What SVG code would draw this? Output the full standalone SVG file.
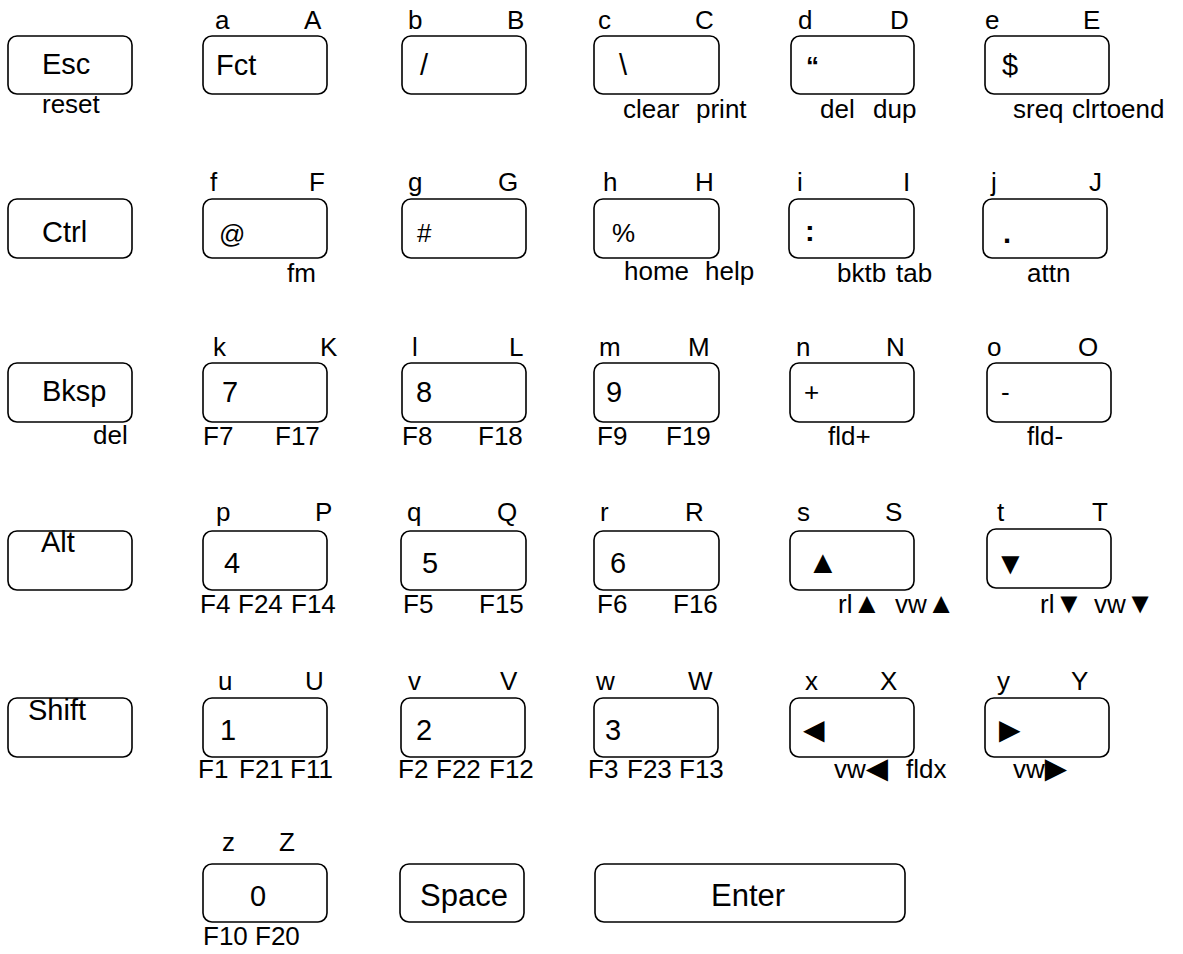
<svg xmlns="http://www.w3.org/2000/svg" width="1183" height="954" viewBox="0 0 1183 954">
<style>
  .k { fill: #fff; stroke: #000; stroke-width: 1.6; }
  text { font-family: "Liberation Sans", Arial, sans-serif; fill: #000; }
  .m { font-size: 29px; }
  .b { font-size: 31px; }
  .l { font-size: 26px; }
  .s { font-size: 26px; }
  .tri { font-family: "Liberation Sans", "DejaVu Sans", sans-serif; }
</style>
<rect width="1183" height="954" fill="#fff"/>
<!-- Row 1 -->
<g id="key-esc"><rect class="k" x="8" y="36" width="124" height="58" rx="9"/><text class="m" x="42" y="74">Esc</text><text class="s" x="42" y="113">reset</text></g>
<g id="key-a"><text class="l" x="215" y="29">a</text><text class="l" x="304" y="29">A</text><rect class="k" x="203" y="36" width="124" height="58" rx="9"/><text class="m" x="216" y="75">Fct</text></g>
<g id="key-b"><text class="l" x="408" y="29">b</text><text class="l" x="507" y="29">B</text><rect class="k" x="402" y="36" width="124" height="58" rx="9"/><text class="m" x="420" y="75">/</text></g>
<g id="key-c"><text class="l" x="598" y="29">c</text><text class="l" x="695" y="29">C</text><rect class="k" x="594" y="36" width="125" height="58" rx="9"/><text class="m" x="619" y="75">\</text><text class="s" y="118"><tspan x="623">clear</tspan><tspan x="696">print</tspan></text></g>
<g id="key-d"><text class="l" x="798" y="29">d</text><text class="l" x="890" y="29">D</text><rect class="k" x="791" y="36" width="123" height="58" rx="9"/><text class="s" x="806" y="75" font-weight="bold">“</text><text class="s" y="118"><tspan x="820">del</tspan><tspan x="873">dup</tspan></text></g>
<g id="key-e"><text class="l" x="985" y="29">e</text><text class="l" x="1083" y="29">E</text><rect class="k" x="985" y="36" width="124" height="58" rx="9"/><text class="m" x="1002" y="75">$</text><text class="s" y="118"><tspan x="1013">sreq</tspan><tspan x="1072">clrtoend</tspan></text></g>
<!-- Row 2 -->
<g id="key-ctrl"><rect class="k" x="8" y="199" width="124" height="59" rx="9"/><text class="m" x="42" y="242">Ctrl</text></g>
<g id="key-f"><text class="l" x="210" y="191">f</text><text class="l" x="309" y="191">F</text><rect class="k" x="203" y="199" width="124" height="59" rx="9"/><text class="s" x="219" y="243" font-size="27">@</text><text class="s" x="287" y="282">fm</text></g>
<g id="key-g"><text class="l" x="408" y="191">g</text><text class="l" x="498" y="191">G</text><rect class="k" x="402" y="199" width="124" height="59" rx="9"/><text class="s" x="417" y="242">#</text></g>
<g id="key-h"><text class="l" x="603" y="191">h</text><text class="l" x="695" y="191">H</text><rect class="k" x="594" y="199" width="125" height="59" rx="9"/><text class="s" x="612" y="242">%</text><text class="s" y="280"><tspan x="624">home</tspan><tspan x="705">help</tspan></text></g>
<g id="key-i"><text class="l" x="797" y="191">i</text><text class="l" x="903" y="191">I</text><rect class="k" x="789" y="199" width="125" height="59" rx="9"/><text class="m" x="805" y="241" font-weight="bold">:</text><text class="s" y="282"><tspan x="837">bktb</tspan><tspan x="896">tab</tspan></text></g>
<g id="key-j"><text class="l" x="991" y="191">j</text><text class="l" x="1089" y="191">J</text><rect class="k" x="983" y="199" width="124" height="59" rx="9"/><text class="m" x="1003" y="243" font-weight="bold">.</text><text class="s" x="1027" y="282">attn</text></g>
<!-- Row 3 -->
<g id="key-bksp"><rect class="k" x="8" y="363" width="124" height="59" rx="9"/><text class="m" x="42" y="401">Bksp</text><text class="s" x="93" y="444">del</text></g>
<g id="key-k"><text class="l" x="213" y="356">k</text><text class="l" x="320" y="356">K</text><rect class="k" x="203" y="363" width="124" height="59" rx="9"/><text class="m" x="222" y="402">7</text><text class="s" y="445"><tspan x="203">F7</tspan><tspan x="275">F17</tspan></text></g>
<g id="key-l"><text class="l" x="412" y="356">l</text><text class="l" x="509" y="356">L</text><rect class="k" x="402" y="363" width="124" height="59" rx="9"/><text class="m" x="416" y="402">8</text><text class="s" y="445"><tspan x="402">F8</tspan><tspan x="478">F18</tspan></text></g>
<g id="key-m"><text class="l" x="599" y="356">m</text><text class="l" x="688" y="356">M</text><rect class="k" x="594" y="363" width="125" height="59" rx="9"/><text class="m" x="606" y="402">9</text><text class="s" y="445"><tspan x="597">F9</tspan><tspan x="666">F19</tspan></text></g>
<g id="key-n"><text class="l" x="796" y="356">n</text><text class="l" x="886" y="356">N</text><rect class="k" x="790" y="363" width="124" height="59" rx="9"/><text class="s" x="804" y="401">+</text><text class="s" x="828" y="445">fld+</text></g>
<g id="key-o"><text class="l" x="987" y="356">o</text><text class="l" x="1078" y="356">O</text><rect class="k" x="987" y="363" width="124" height="59" rx="9"/><text class="s" x="1001" y="401">-</text><text class="s" x="1027" y="445">fld-</text></g>
<!-- Row 4 -->
<g id="key-alt"><rect class="k" x="8" y="531" width="124" height="59" rx="9"/><text class="m" x="41" y="552">Alt</text></g>
<g id="key-p"><text class="l" x="216" y="521">p</text><text class="l" x="315" y="521">P</text><rect class="k" x="203" y="531" width="124" height="59" rx="9"/><text class="m" x="224" y="573">4</text><text class="s" y="613"><tspan x="200">F4</tspan><tspan x="238">F24</tspan><tspan x="291">F14</tspan></text></g>
<g id="key-q"><text class="l" x="407" y="521">q</text><text class="l" x="497" y="521">Q</text><rect class="k" x="401" y="531" width="125" height="59" rx="9"/><text class="m" x="422" y="573">5</text><text class="s" y="613"><tspan x="403">F5</tspan><tspan x="479">F15</tspan></text></g>
<g id="key-r"><text class="l" x="600" y="521">r</text><text class="l" x="685" y="521">R</text><rect class="k" x="594" y="531" width="125" height="59" rx="9"/><text class="m" x="610" y="573">6</text><text class="s" y="613"><tspan x="597">F6</tspan><tspan x="673">F16</tspan></text></g>
<g id="key-s"><text class="l" x="797" y="521">s</text><text class="l" x="885" y="521">S</text><rect class="k" x="790" y="531" width="124" height="59" rx="9"/><text class="tri" font-size="32" x="807" y="573">▲</text><text class="s" y="613"><tspan x="838">rl</tspan><tspan class="tri" font-size="29">▲</tspan><tspan x="895">vw</tspan><tspan class="tri" font-size="29">▲</tspan></text></g>
<g id="key-t"><text class="l" x="997" y="521">t</text><text class="l" x="1092" y="521">T</text><rect class="k" x="987" y="529" width="124" height="59" rx="9"/><text class="tri" font-size="31" x="995" y="574">▼</text><text class="s" y="613"><tspan x="1040">rl</tspan><tspan class="tri" font-size="29">▼</tspan><tspan x="1094">vw</tspan><tspan class="tri" font-size="29">▼</tspan></text></g>
<!-- Row 5 -->
<g id="key-shift"><rect class="k" x="8" y="698" width="124" height="59" rx="9"/><text class="m" x="28" y="720">Shift</text></g>
<g id="key-u"><text class="l" x="218" y="690">u</text><text class="l" x="305" y="690">U</text><rect class="k" x="203" y="698" width="124" height="59" rx="9"/><text class="m" x="220" y="740">1</text><text class="s" y="778"><tspan x="198">F1</tspan><tspan x="239">F21</tspan><tspan x="290">F11</tspan></text></g>
<g id="key-v"><text class="l" x="408" y="690">v</text><text class="l" x="500" y="690">V</text><rect class="k" x="401" y="698" width="124" height="59" rx="9"/><text class="m" x="416" y="740">2</text><text class="s" y="778"><tspan x="398">F2</tspan><tspan x="436">F22</tspan><tspan x="489">F12</tspan></text></g>
<g id="key-w"><text class="l" x="596" y="690">w</text><text class="l" x="688" y="690">W</text><rect class="k" x="594" y="698" width="124" height="59" rx="9"/><text class="m" x="605" y="740">3</text><text class="s" y="778"><tspan x="588">F3</tspan><tspan x="627">F23</tspan><tspan x="679">F13</tspan></text></g>
<g id="key-x"><text class="l" x="805" y="690">x</text><text class="l" x="880" y="690">X</text><rect class="k" x="790" y="698" width="124" height="59" rx="9"/><text class="tri" font-size="28" x="803" y="739">◀</text><text class="s" y="778"><tspan x="834">vw</tspan><tspan class="tri" font-size="29">◀</tspan><tspan x="906">fldx</tspan></text></g>
<g id="key-y"><text class="l" x="997" y="690">y</text><text class="l" x="1071" y="690">Y</text><rect class="k" x="985" y="698" width="124" height="59" rx="9"/><text class="tri" font-size="28" x="999" y="739">▶</text><text class="s" y="778"><tspan x="1013">vw</tspan><tspan class="tri" font-size="29">▶</tspan></text></g>
<!-- Row 6 -->
<g id="key-z"><text class="s" x="222" y="851" font-size="25">z</text><text class="s" x="279" y="851" font-size="25">Z</text><rect class="k" x="203" y="864" width="124" height="58" rx="9"/><text class="m" x="250" y="906">0</text><text class="s" y="945" font-size="24"><tspan x="203">F10</tspan><tspan x="255">F20</tspan></text></g>
<g id="key-space"><rect class="k" x="400" y="864" width="124" height="58" rx="9"/><text class="b" x="420" y="906">Space</text></g>
<g id="key-enter"><rect class="k" x="595" y="864" width="310" height="58" rx="9"/><text class="b" x="711" y="906">Enter</text></g>
</svg>
